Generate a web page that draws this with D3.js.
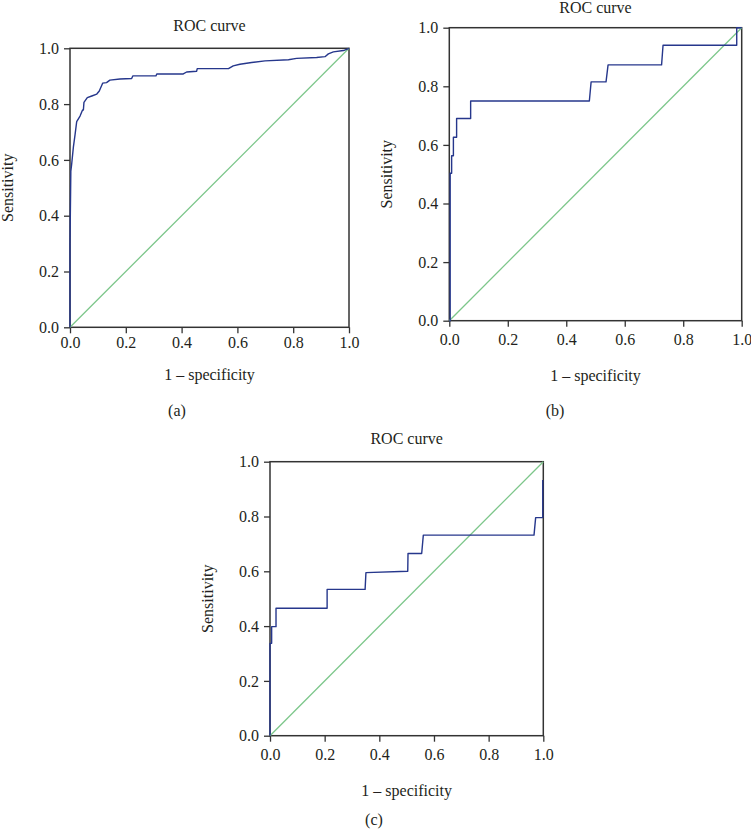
<!DOCTYPE html>
<html>
<head>
<meta charset="utf-8">
<script src="https://cdn.jsdelivr.net/npm/d3@7"></script>
<style>
  html, body { margin: 0; padding: 0; background: #fff; }
  svg text { font-family: "Liberation Serif", "Times New Roman", serif; fill: #231f20; }
</style>
</head>
<body>
<svg id="chart" width="751" height="831"></svg>
<script>
// ---- Data ----
const ticks = [0, 0.2, 0.4, 0.6, 0.8, 1.0];
const titleText = "ROC curve";
const xLabelText = "1 \u2013 specificity";
const yLabelText = "Sensitivity";
const panelLabels = ["(a)", "(b)", "(c)"];

// Panel (a): [1 - specificity, sensitivity]
const rocA_fpr = [0, 0, 0.003, 0.006, 0.012, 0.018, 0.024, 0.036, 0.045, 0.048, 0.05, 0.062, 0.078, 0.096, 0.105, 0.117, 0.131, 0.143, 0.179, 0.221, 0.225, 0.308, 0.311, 0.406, 0.418, 0.454, 0.456, 0.568, 0.585, 0.609, 0.651, 0.699, 0.783, 0.812, 0.884, 0.914, 0.926, 0.944, 0.98, 1.0];
const rocA_tpr = [0, 0.30, 0.56, 0.585, 0.645, 0.69, 0.737, 0.757, 0.779, 0.779, 0.806, 0.823, 0.829, 0.836, 0.847, 0.875, 0.877, 0.886, 0.890, 0.892, 0.901, 0.901, 0.908, 0.908, 0.915, 0.918, 0.927, 0.927, 0.937, 0.943, 0.949, 0.955, 0.959, 0.964, 0.967, 0.970, 0.980, 0.987, 0.992, 1.0];

// Panel (b)
const rocB_fpr = [0, 0.003, 0.003, 0.008, 0.008, 0.014, 0.014, 0.025, 0.025, 0.073, 0.073, 0.479, 0.485, 0.536, 0.543, 0.726, 0.731, 0.983, 0.983, 1.0];
const rocB_tpr = [0, 0.0, 0.503, 0.503, 0.563, 0.563, 0.626, 0.626, 0.69, 0.69, 0.75, 0.75, 0.815, 0.815, 0.873, 0.873, 0.94, 0.94, 1.0, 1.0];

// Panel (c)
const rocC_fpr = [0, 0, 0.006, 0.006, 0.022, 0.022, 0.209, 0.209, 0.348, 0.351, 0.504, 0.505, 0.555, 0.561, 0.966, 0.972, 0.998, 0.998];
const rocC_tpr = [0, 0.337, 0.337, 0.398, 0.398, 0.465, 0.465, 0.534, 0.534, 0.595, 0.6, 0.665, 0.665, 0.732, 0.732, 0.796, 0.796, 0.933];

const series = [
  { fpr: rocA_fpr, tpr: rocA_tpr },
  { fpr: rocB_fpr, tpr: rocB_tpr },
  { fpr: rocC_fpr, tpr: rocC_tpr }
];

// ---- Layout ----
const panels = [
  { left: 70, right: 349, top: 48.3, bottom: 327.3, titleY: 31, tickY: 21, xLabY: 380, lab: [177, 416] },
  { left: 449.3, right: 741.7, top: 27.7, bottom: 320.7, titleY: 13, tickY: 24.5, xLabY: 380.5, lab: [555, 416] },
  { left: 270, right: 543.3, top: 461.7, bottom: 735.7, titleY: 444, tickY: 24.5, xLabY: 796, lab: [374, 825] }
];

const svg = d3.select("#chart");
const fontSize = 16;

panels.forEach((p, i) => {
  const x = d3.scaleLinear().domain([0, 1]).range([p.left, p.right]);
  const y = d3.scaleLinear().domain([0, 1]).range([p.bottom, p.top]);
  const g = svg.append("g");

  // y axis ticks
  const ya = g.append("g").attr("transform", `translate(${p.left},0)`)
    .call(d3.axisLeft(y).tickValues(ticks).tickFormat(d3.format(".1f")).tickSize(6).tickSizeOuter(0).tickPadding(5));
  ya.select(".domain").remove();
  ya.selectAll(".tick line").attr("stroke", "#333").attr("stroke-width", 1.3);
  ya.selectAll(".tick text").attr("font-size", fontSize).attr("font-family", "Liberation Serif").attr("fill", "#231f20");

  // x axis ticks
  const xa = g.append("g").attr("transform", `translate(0,${p.bottom})`)
    .call(d3.axisBottom(x).tickValues(ticks).tickFormat(d3.format(".1f")).tickSize(6).tickSizeOuter(0).tickPadding(0));
  xa.select(".domain").remove();
  xa.selectAll(".tick line").attr("stroke", "#333").attr("stroke-width", 1.3);
  xa.selectAll(".tick text").attr("font-size", fontSize).attr("font-family", "Liberation Serif").attr("fill", "#231f20")
    .attr("dy", null).attr("y", p.tickY);

  // frame
  g.append("rect")
    .attr("x", p.left).attr("y", p.top)
    .attr("width", p.right - p.left).attr("height", p.bottom - p.top)
    .attr("fill", "none").attr("stroke", "#333").attr("stroke-width", 1.5);

  // reference diagonal
  g.append("line")
    .attr("x1", x(0)).attr("y1", y(0)).attr("x2", x(1)).attr("y2", y(1))
    .attr("stroke", "#7cc68a").attr("stroke-width", 1.3);

  // ROC curve
  const s = series[i];
  const pts = s.fpr.map((f, k) => [f, s.tpr[k]]);
  g.append("path")
    .datum(pts)
    .attr("d", d3.line().x(d => x(d[0])).y(d => y(d[1])))
    .attr("fill", "none").attr("stroke", "#26378c").attr("stroke-width", 1.4)
    .attr("stroke-linejoin", "round");

  // title
  g.append("text").attr("x", (p.left + p.right) / 2).attr("y", p.titleY)
    .attr("text-anchor", "middle").attr("font-size", fontSize).text(titleText);

  // x label
  g.append("text").attr("x", (p.left + p.right) / 2).attr("y", p.xLabY)
    .attr("text-anchor", "middle").attr("font-size", fontSize).text(xLabelText);

  // y label
  g.append("text")
    .attr("transform", `translate(${p.left - 57},${(p.top + p.bottom) / 2}) rotate(-90)`)
    .attr("text-anchor", "middle").attr("font-size", fontSize).text(yLabelText);

  // panel label
  g.append("text").attr("x", p.lab[0]).attr("y", p.lab[1])
    .attr("text-anchor", "middle").attr("font-size", fontSize).text(panelLabels[i]);
});
</script>
</body>
</html>
